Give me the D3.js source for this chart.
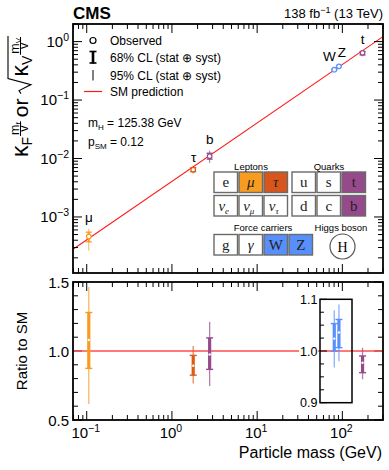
<!DOCTYPE html>
<html><head><meta charset="utf-8">
<script src="https://cdn.jsdelivr.net/npm/d3@7"></script>
<style>body{margin:0;background:#fff}svg{display:block}text{font-family:"Liberation Sans",Arial,Helvetica,sans-serif;fill:#000}</style>
</head><body><svg id="c" width="389" height="470"></svg>
<script>
// ---------------- data ----------------
const particles = ["μ","τ","b","W","Z","t"];
const massGeV   = [0.1057, 1.777, 2.77, 80.38, 91.19, 172.7];
const coupling  = ["F","F","F","V","V","F"];
const ratio     = [1.08, 0.893, 0.975, 1.024, 1.036, 0.915];
const lo68      = [0.874, 0.825, 0.867, 1.000, 1.0065, 0.843];
const hi68      = [1.279, 0.968, 1.095, 1.053, 1.061, 0.964];
const lo95      = [0.616, 0.765, 0.746, 0.968, 0.980, 0.795];
const hi95      = [1.464, 1.037, 1.211, 1.079, 1.090, 1.024];
const inInset   = [false, false, false, true, true, false];
const colors    = ["#f89c20","#de5a16","#964a8b","#5790fc","#5790fc","#964a8b"];
const vev = 246.22;
const smMassRange = [0.069, 300];
const xMajorExp = ["−1","0","1","2"];
const xMajorVal = [0.1, 1, 10, 100];
const yTopExp = ["0","−1","−2","−3"];
const yTopVal = [1, 0.1, 0.01, 0.001];
const yBotTickVal = [0.5, 1.0, 1.5];
const yBotTickLab = ["0.5","1.0","1.5"];
const insetTickVal = [0.9, 1.0, 1.1];
const insetTickLab = ["0.9","1.0","1.1"];

// ---------------- setup ----------------
const svg = d3.select("#c");
const L = 73, R = 383, T1 = 24, B1 = 273, T2 = 282, B2 = 420;
const x = d3.scaleLog().domain([0.069, 300]).range([L, R]);
const yT = d3.scaleLog().domain([1.1e-4, 2]).range([B1, T1]);
const yB = d3.scaleLinear().domain([0.5, 1.5]).range([B2, T2]);
const yI = d3.scaleLinear().domain([0.9, 1.1]).range([yB(1.0) + 51.7, yB(1.0) - 51.7]);

function logTicks(dom){
  const out = [];
  for (let e = Math.floor(Math.log10(dom[0])); e <= Math.ceil(Math.log10(dom[1])); e++){
    for (let k = 1; k <= 9; k++){
      const v = k * Math.pow(10, e);
      if (v >= dom[0]*0.9999 && v <= dom[1]*1.0001) out.push({v, major: k === 1});
    }
  }
  return out;
}
const line = (x1,y1,x2,y2,stroke="#000",w=1) => svg.append("line").attr("x1",x1).attr("y1",y1).attr("x2",x2).attr("y2",y2).attr("stroke",stroke).attr("stroke-width",w);

// ---------------- top panel ----------------
const smLine = d3.line().x(d => x(d)).y(d => yT(d / vev));
svg.append("path").attr("d", smLine(smMassRange)).attr("stroke","#ff1a1a").attr("stroke-width",1.1).attr("fill","none");

// ticks
logTicks(x.domain()).forEach(t => {
  const len = t.major ? 9 : 5, px = x(t.v);
  line(px, T1, px, T1+len); line(px, B1, px, B1-len);
  line(px, T2, px, T2+len); line(px, B2, px, B2-len);
});
logTicks(yT.domain()).forEach(t => {
  const len = t.major ? 9 : 5, py = yT(t.v);
  line(L, py, L+len, py); line(R, py, R-len, py);
});
d3.range(0.5, 1.501, 0.1).forEach(v => {
  const major = Math.abs(v*2 - Math.round(v*2)) < 1e-6;
  const len = major ? 9 : 5, py = yB(v);
  line(L, py, L+len, py); line(R, py, R-len, py);
});

yTopVal.forEach((v,i) => {
  const t = svg.append("text").attr("x", 69).attr("y", yT(v) + 5).attr("text-anchor","end").attr("font-size",15);
  t.append("tspan").text("10");
  t.append("tspan").attr("dy",-6).attr("font-size",10.5).text(yTopExp[i]);
});

const topVal = massGeV.map((m,i) => coupling[i] === "F" ? ratio[i]*m/vev : Math.sqrt(ratio[i])*m/vev);
const topScale = (i, r) => coupling[i] === "F" ? r/ratio[i] : Math.sqrt(r/ratio[i]);
massGeV.forEach((m,i) => {
  const px = x(m), c = colors[i];
  const y95a = yT(topVal[i]*topScale(i, lo95[i])), y95b = yT(topVal[i]*topScale(i, hi95[i]));
  const y68a = yT(topVal[i]*topScale(i, lo68[i])), y68b = yT(topVal[i]*topScale(i, hi68[i]));
  line(px, y95a, px, y95b, c, 1).attr("opacity",0.75);
  line(px, y68a, px, y68b, c, 2);
  line(px-3, y68a, px+3, y68a, c, 1.3); line(px-3, y68b, px+3, y68b, c, 1.3);
  svg.append("circle").attr("cx",px).attr("cy",yT(topVal[i])).attr("r",2.3).attr("fill","#fff").attr("stroke",c).attr("stroke-width",1.2);
});
const labOff = [[0,-14],[0.5,-8],[0,-12],[-5,-9],[3,-9],[0,-9]];
particles.forEach((p,i) => {
  svg.append("text").attr("x", x(massGeV[i]) + labOff[i][0]).attr("y", yT(topVal[i]) + labOff[i][1])
    .attr("text-anchor","middle").attr("font-size",13.5).text(p);
});

// legend
svg.append("circle").attr("cx",93).attr("cy",40.5).attr("r",3).attr("fill","#fff").attr("stroke","#000").attr("stroke-width",1.2);
svg.append("text").attr("x",110).attr("y",45).attr("font-size",12).text("Observed");
line(93, 51, 93, 63.5, "#000", 2.6); line(89.5, 51.5, 96.5, 51.5, "#000", 1.6); line(89.5, 63, 96.5, 63, "#000", 1.6);
svg.append("text").attr("x",110).attr("y",61.5).attr("font-size",12).text("68% CL (stat ⊕ syst)");
line(93, 70, 93, 80.5, "#000", 1);
svg.append("text").attr("x",110).attr("y",79.5).attr("font-size",12).text("95% CL (stat ⊕ syst)");
line(84, 91.5, 102, 91.5, "#ff1a1a", 1.2);
svg.append("text").attr("x",110).attr("y",96).attr("font-size",12).text("SM prediction");

const mh = svg.append("text").attr("x",88).attr("y",126.5).attr("font-size",12);
mh.append("tspan").text("m");
mh.append("tspan").attr("dy",3).attr("font-size",8).text("H");
mh.append("tspan").attr("dy",-3).text(" = 125.38 GeV");
const ps = svg.append("text").attr("x",88).attr("y",146).attr("font-size",12);
ps.append("tspan").text("p");
ps.append("tspan").attr("dy",3).attr("font-size",8).text("SM");
ps.append("tspan").attr("dy",-3).text(" = 0.12");

// particle table
const serif = '"Liberation Serif","DejaVu Serif",serif';
const boxes = [
  {c:"e", x:214, y:172}, {c:"μ", x:239, y:172, f:"#f89c20", it:1}, {c:"τ", x:264, y:172, f:"#d8561b", it:1},
  {c:"u", x:292, y:172}, {c:"s", x:317, y:172}, {c:"t", x:342, y:172, f:"#964a8b"},
  {c:"ν", s:"e", x:214, y:195.5, it:1}, {c:"ν", s:"μ", x:239, y:195.5, it:1}, {c:"ν", s:"τ", x:264, y:195.5, it:1},
  {c:"d", x:292, y:195.5}, {c:"c", x:317, y:195.5}, {c:"b", x:342, y:195.5, f:"#964a8b"},
  {c:"g", x:214, y:234.5}, {c:"γ", x:239, y:234.5, it:1}, {c:"W", x:264, y:234.5, f:"#5790fc"}, {c:"Z", x:289, y:234.5, f:"#5790fc"}
];
boxes.forEach(b => {
  svg.append("rect").attr("x",b.x).attr("y",b.y).attr("width",23.5).attr("height",20.5)
    .attr("fill", b.f || "#fff").attr("stroke","#6a6a6a").attr("stroke-width",1.4);
  const t = svg.append("text").attr("x", b.x + 11.75 - (b.s ? 2 : 0)).attr("y", b.y + 15).attr("text-anchor","middle")
    .attr("font-size",15).style("font-family",serif).style("font-style", b.it ? "italic" : "normal").style("fill","#222");
  t.append("tspan").text(b.c);
  if (b.s) t.append("tspan").attr("dy",3).attr("font-size",9).text(b.s);
});
[["Leptons",251,170],["Quarks",329,170],["Force carriers",263,231],["Higgs boson",341,231]].forEach(d => {
  svg.append("text").attr("x",d[1]).attr("y",d[2]).attr("text-anchor","middle").attr("font-size",9.5).text(d[0]);
});
svg.append("circle").attr("cx",342.5).attr("cy",246.5).attr("r",12.5).attr("fill","#fff").attr("stroke","#555").attr("stroke-width",1.2);
svg.append("text").attr("x",342.5).attr("y",251.5).attr("text-anchor","middle").attr("font-size",14).style("font-family",serif).text("H");

// ---------------- bottom panel ----------------
line(L, yB(1), R, yB(1), "#ff4d4d", 1.3);
const insX0 = 320, insX1 = 352;
svg.append("rect").attr("x",insX0).attr("y",yI(1.1)).attr("width",insX1-insX0).attr("height",yI(0.9)-yI(1.1))
  .attr("fill","none").attr("stroke","#000").attr("stroke-width",1.5);
d3.range(0.9, 1.1001, 0.025).forEach(v => {
  const major = Math.abs(v*10 - Math.round(v*10)) < 1e-6;
  line(insX0, yI(v), insX0 + (major ? 7 : 4), yI(v));
});
insetTickVal.forEach((v,i) => {
  if (v === 1.0) svg.append("rect").attr("x",299).attr("y",yI(v)-6).attr("width",19).attr("height",12).attr("fill","#fff");
  svg.append("text").attr("x",317.5).attr("y",yI(v)+4.5).attr("text-anchor","end").attr("font-size",12.5).text(insetTickLab[i]);
});

massGeV.forEach((m,i) => {
  const px = x(m), c = colors[i], ys = inInset[i] ? yI : yB;
  line(px, ys(lo95[i]), px, ys(hi95[i]), c, 1.3).attr("opacity",0.7);
  line(px, ys(lo68[i]), px, ys(hi68[i]), c, 3.2);
  line(px-3.5, ys(lo68[i]), px+3.5, ys(lo68[i]), c, 1.4);
  line(px-3.5, ys(hi68[i]), px+3.5, ys(hi68[i]), c, 1.4);
  svg.append("circle").attr("cx",px).attr("cy",ys(ratio[i])).attr("r",1.2).attr("fill","#fff");
});

yBotTickVal.forEach((v,i) => {
  svg.append("text").attr("x",69).attr("y",yB(v)+5.5).attr("text-anchor","end").attr("font-size",15).text(yBotTickLab[i]);
});
xMajorVal.forEach((v,i) => {
  const t = svg.append("text").attr("x", x(v)-1).attr("y", 438).attr("text-anchor","middle").attr("font-size",15);
  t.append("tspan").text("10");
  t.append("tspan").attr("dy",-6).attr("font-size",10.5).text(xMajorExp[i]);
});

svg.append("rect").attr("x",L).attr("y",T1).attr("width",R-L).attr("height",B1-T1).attr("fill","none").attr("stroke","#000").attr("stroke-width",1.8);
svg.append("rect").attr("x",L).attr("y",T2).attr("width",R-L).attr("height",B2-T2).attr("fill","none").attr("stroke","#000").attr("stroke-width",1.8);

svg.append("text").attr("x",73).attr("y",18.5).attr("font-size",17).attr("font-weight","bold").text("CMS");
const lum = svg.append("text").attr("x",383).attr("y",18).attr("text-anchor","end").attr("font-size",13);
lum.append("tspan").text("138 fb");
lum.append("tspan").attr("dy",-5).attr("font-size",9).text("−1");
lum.append("tspan").attr("dy",5).text(" (13 TeV)");
svg.append("text").attr("x",382).attr("y",458).attr("text-anchor","end").attr("font-size",16).text("Particle mass (GeV)");
svg.append("text").attr("transform","translate(27,351) rotate(-90)").attr("text-anchor","middle").attr("font-size",15).text("Ratio to SM");

// y title (top)
(function(){
  const g = svg.append("g").attr("transform","translate(28,157) rotate(-90)");
  let cx = 0;
  const put = (txt, size, dy) => {
    const t = g.append("text").attr("x",cx).attr("y",dy).attr("font-size",size).text(txt);
    const w = t.node().getComputedTextLength(); cx += w; return w;
  };
  const frac = (num, sub) => {
    const a = g.append("text").attr("y",-9.5).attr("font-size",12.5);
    a.append("tspan").text(num); a.append("tspan").attr("dy",2).attr("font-size",8).text(sub);
    const nw = a.node().getComputedTextLength();
    const b = g.append("text").attr("y",0).attr("font-size",12.5).text("v");
    const dw = b.node().getComputedTextLength();
    const fw = Math.max(nw, dw) + 2;
    a.attr("x", cx + (fw-nw)/2); b.attr("x", cx + (fw-dw)/2);
    g.append("line").attr("x1",cx).attr("x2",cx+fw).attr("y1",-7.5).attr("y2",-7.5).attr("stroke","#000").attr("stroke-width",1);
    cx += fw;
  };
  put("κ",23,0); put("F",14,4); cx += 1; frac("m","f");
  cx += 4; put("or",21,0); cx += 5;
  const sx = cx;
  cx += 17; put("κ",23,0); put("V",14,4); cx += 1; frac("m","V"); cx += 1;
  g.append("path").attr("d",`M${sx},-7 L${sx+3},-9 L${sx+9},3 L${sx+15},-20 L${cx},-20`).attr("fill","none").attr("stroke","#000").attr("stroke-width",1.1);
})();
</script></body></html>
